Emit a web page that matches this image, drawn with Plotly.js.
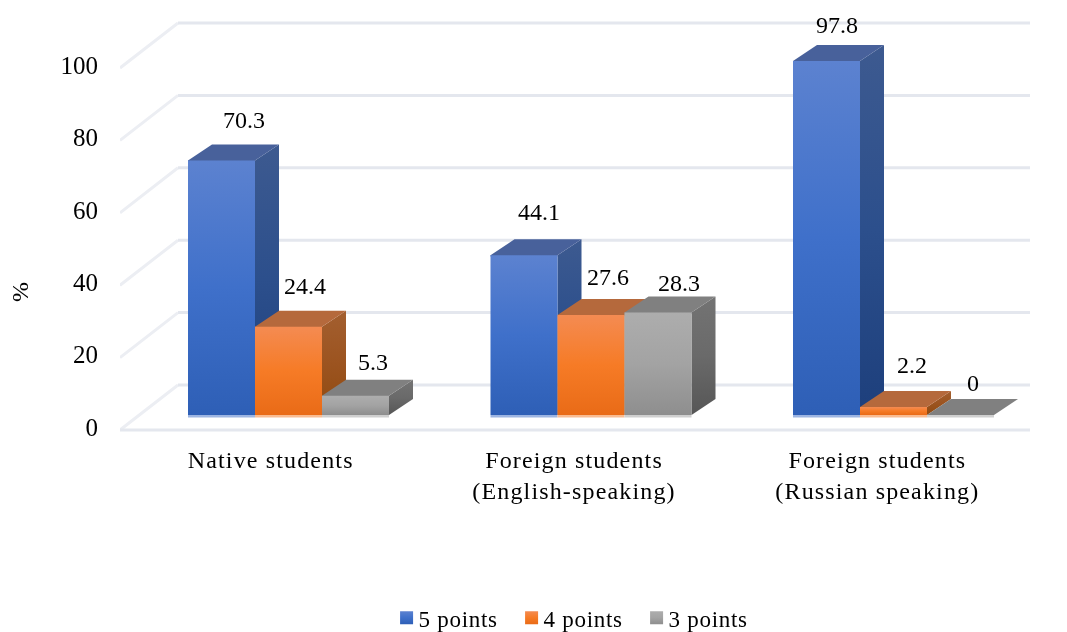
<!DOCTYPE html>
<html>
<head>
<meta charset="utf-8">
<script src="https://cdn.plot.ly/plotly-3.0.1.min.js"></script>
<style>
html,body{margin:0;padding:0;background:#fff}
#chart{filter:blur(0.35px)}
.xtick text{letter-spacing:1.15px}
.legendtext{letter-spacing:0.7px}
</style>
</head>
<body>
<div id="chart" style="width:1067px;height:632px"></div>
<script>
// Data
const categories = ["Native students", "Foreign students<br>(English-speaking)", "Foreign students<br>(Russian speaking)"];
const seriesNames = ["5 points", "4 points", "3 points"];
const points5 = [70.3, 44.1, 97.8];
const points4 = [24.4, 27.6, 2.2];
const points3 = [5.3, 28.3, 0];
const yTicks = [0, 20, 40, 60, 80, 100];

// Pseudo-3D projection, in pixels, converted to axis units below
const W = 1067, H = 632;
const M = {l: 120, r: 37, t: 0, b: 196, autoexpand: false};
const plotW = W - M.l - M.r;
const pxX = plotW / 3;
const pxY = 3.62;
const yMin = -6 / pxY, yMax = 430 / pxY;
const shiftY = 15 / pxY;                      // bars sit above the floor edge
const depthX = 24 / pxX, depthY = 16 / pxY;   // bar depth
const wallX = 58 / pxX, wallY = 45 / pxY;     // wall depth
const barW = 67 / pxX;
const groupPx = 302.5, group0Px = 168.5;      // bar-group spacing and first centre, from plot left
const barCenter = i => (group0Px + groupPx * i) / pxX - 0.5;
const x2Left = -group0Px / groupPx, x2Span = plotW / groupPx;

const styles = [
  {front: "gBlue", fb: "#3f70ca", side: "gBlueS", top: "#48619b", foot: "#9db5e2"},
  {front: "gOrange", fb: "#f57a25", side: "gOrangeS", top: "#b5693c", foot: "#f9bc92"},
  {front: "gGray", fb: "#a0a0a0", side: "gGrayS", top: "#808080", foot: "#cfcfcf"}
];
const seriesValues = [points5, points4, points3];

const traces = [];

// Wall diagonals, back gridlines and floor edge
const dx = [], dy = [], gx = [], gy = [];
yTicks.forEach(v => {
  dx.push(-0.5, -0.5 + wallX, null);
  dy.push(v, v + wallY, null);
  gx.push(-0.5 + wallX, 2.5, null);
  gy.push(v + wallY, v + wallY, null);
});
gx.push(-0.5, 2.5); gy.push(0, 0);
traces.push({type: "scatter", mode: "lines", x: dx, y: dy, cliponaxis: false,
  line: {color: "#eceef3", width: 3}, showlegend: false, hoverinfo: "skip"});
traces.push({type: "scatter", mode: "lines", x: gx, y: gy, cliponaxis: false,
  line: {color: "#e4e7ee", width: 3}, showlegend: false, hoverinfo: "skip"});

// Side and top faces, left to right
const seam = 0.3; // tuck the top face just under the front face
seriesValues.forEach((vals, j) => {
  vals.forEach((v, i) => {
    const xa = barCenter(i) + (j - 1.5) * barW, xb = xa + barW;
    const yv = v + shiftY, yb = shiftY;
    traces.push({type: "scatter", mode: "lines", fill: "toself", fillcolor: styles[j].top,
      x: [xb, xb, xb + depthX, xb + depthX, xb], y: [yb, yv, yv + depthY, yb + depthY, yb],
      line: {width: 0}, showlegend: false, hoverinfo: "skip", meta: styles[j].side});
    traces.push({type: "scatter", mode: "lines", fill: "toself", fillcolor: styles[j].top,
      x: [xa, xb, xb, xb + depthX, xa + depthX, xa, xa],
      y: [yv - seam, yv - seam, yv, yv + depthY, yv + depthY, yv, yv - seam],
      line: {width: 0}, showlegend: false, hoverinfo: "skip"});
    traces.push({type: "scatter", mode: "lines", fill: "toself", fillcolor: styles[j].foot,
      x: [xa, xb, xb, xa, xa], y: [yb, yb, yb - 0.7, yb - 0.7, yb],
      line: {width: 0}, showlegend: false, hoverinfo: "skip"});
  });
});

// Front faces
seriesValues.forEach((vals, j) => {
  traces.push({type: "bar", name: seriesNames[j], x: [0, 1, 2], y: vals, xaxis: "x2", yaxis: "y2",
    marker: {color: styles[j].fb, line: {width: 0}}, hoverinfo: "name+y", meta: styles[j].front});
});

// Data labels
const labelShiftX = [[22, 15, 10], [16, 17, 18], [17, 21, 12]];
const labelLift = [[41, 43, 36], [41, 38, 42], [34, 30, 32]];
const annotations = [];
seriesValues.forEach((vals, j) => vals.forEach((v, i) => {
  annotations.push({xref: "x", yref: "y", x: barCenter(i) + (j - 1) * barW, y: v + shiftY, text: String(v),
    showarrow: false, xanchor: "center", yanchor: "middle", xshift: labelShiftX[j][i], yshift: labelLift[j][i],
    font: {family: "Liberation Serif", size: 24, color: "#000"}});
}));
annotations.push({xref: "paper", yref: "paper", x: (20 - M.l) / plotW, y: (H - M.b - 292) / (H - M.t - M.b),
  text: "%", showarrow: false, textangle: -90, xanchor: "center", yanchor: "middle",
  font: {family: "Liberation Serif", size: 24, color: "#000"}});

const layout = {
  width: W, height: H, margin: M, paper_bgcolor: "#fff", plot_bgcolor: "rgba(0,0,0,0)",
  barmode: "group", bargap: 1 - 201 / groupPx, bargroupgap: 0,
  font: {family: "Liberation Serif", size: 25, color: "#000"},
  showlegend: true,
  legend: {orientation: "h", x: 0.4902, xanchor: "center", y: -0.3675, yanchor: "top", traceorder: "normal",
    entrywidth: 80, entrywidthmode: "pixels",
    font: {family: "Liberation Serif", size: 23, color: "#000"}},
  xaxis: {range: [-0.5, 2.5], tickmode: "array", tickvals: [0, 1, 2], ticktext: categories,
    tickfont: {family: "Liberation Serif", size: 24, color: "#000"}, ticklabelshift: -1,
    showgrid: false, zeroline: false, showline: false, ticks: "outside", ticklen: 2, tickcolor: "rgba(0,0,0,0)", automargin: false},
  yaxis: {range: [yMin, yMax], tickmode: "array", tickvals: yTicks, ticktext: yTicks.map(String), ticklabelshift: -3,
    showgrid: false, zeroline: false, showline: false, ticks: "outside", ticklen: 16, tickcolor: "rgba(0,0,0,0)", automargin: false},
  xaxis2: {overlaying: "x", range: [x2Left, x2Left + x2Span], visible: false, anchor: "y2"},
  yaxis2: {overlaying: "y", range: [yMin - shiftY, yMax - shiftY], visible: false, anchor: "x2"},
  annotations: annotations
};

const gradients = {
  gBlue: ["#5c82d0", "#3f70ca", "#2e5fb6"],
  gOrange: ["#f48b52", "#f67b26", "#e96b17"],
  gGray: ["#adadad", "#a3a3a3", "#8e8e8e"],
  gBlueS: ["#3d5a90", "#2c4f8c", "#1d3f7c"],
  gOrangeS: ["#a35f30", "#9c5420", "#8f4a10"],
  gGrayS: ["#737373", "#6a6a6a", "#565656"]
};

Plotly.newPlot("chart", traces, layout, {displayModeBar: false, staticPlot: true}).then(gd => {
  const svg = gd.querySelector("svg.main-svg");
  const NS = "http://www.w3.org/2000/svg";
  const defs = document.createElementNS(NS, "defs");
  Object.keys(gradients).forEach(id => {
    const g = document.createElementNS(NS, "linearGradient");
    g.setAttribute("id", id);
    g.setAttribute("x1", "0"); g.setAttribute("y1", "0"); g.setAttribute("x2", "0"); g.setAttribute("y2", "1");
    gradients[id].forEach((c, k) => {
      const s = document.createElementNS(NS, "stop");
      s.setAttribute("offset", k / 2);
      s.setAttribute("stop-color", c);
      g.appendChild(s);
    });
    defs.appendChild(g);
  });
  svg.insertBefore(defs, svg.firstChild);
  gd.querySelectorAll(".scatterlayer .trace").forEach(t => {
    const m = t.__data__ && t.__data__[0] && t.__data__[0].trace.meta;
    if (m) t.querySelectorAll(".js-fill").forEach(p => { p.style.fill = "url(#" + m + ")"; });
  });
  gd.querySelectorAll(".barlayer .trace").forEach(t => {
    const m = t.__data__ && t.__data__[0] && t.__data__[0].trace.meta;
    if (m) t.querySelectorAll("path").forEach(p => { p.style.fill = "url(#" + m + ")"; });
  });
  gd.querySelectorAll(".legend .traces").forEach((t, k) => {
    t.querySelectorAll(".legendpoints path").forEach(p => {
      p.style.fill = "url(#" + styles[k].front + ")";
      p.setAttribute("d", "M6.5,6.5H-6.5V-6.5H6.5Z");
      p.setAttribute("transform", (p.getAttribute("transform") || "") + " translate(8,0)");
    });
  });
});
</script>
</body>
</html>
